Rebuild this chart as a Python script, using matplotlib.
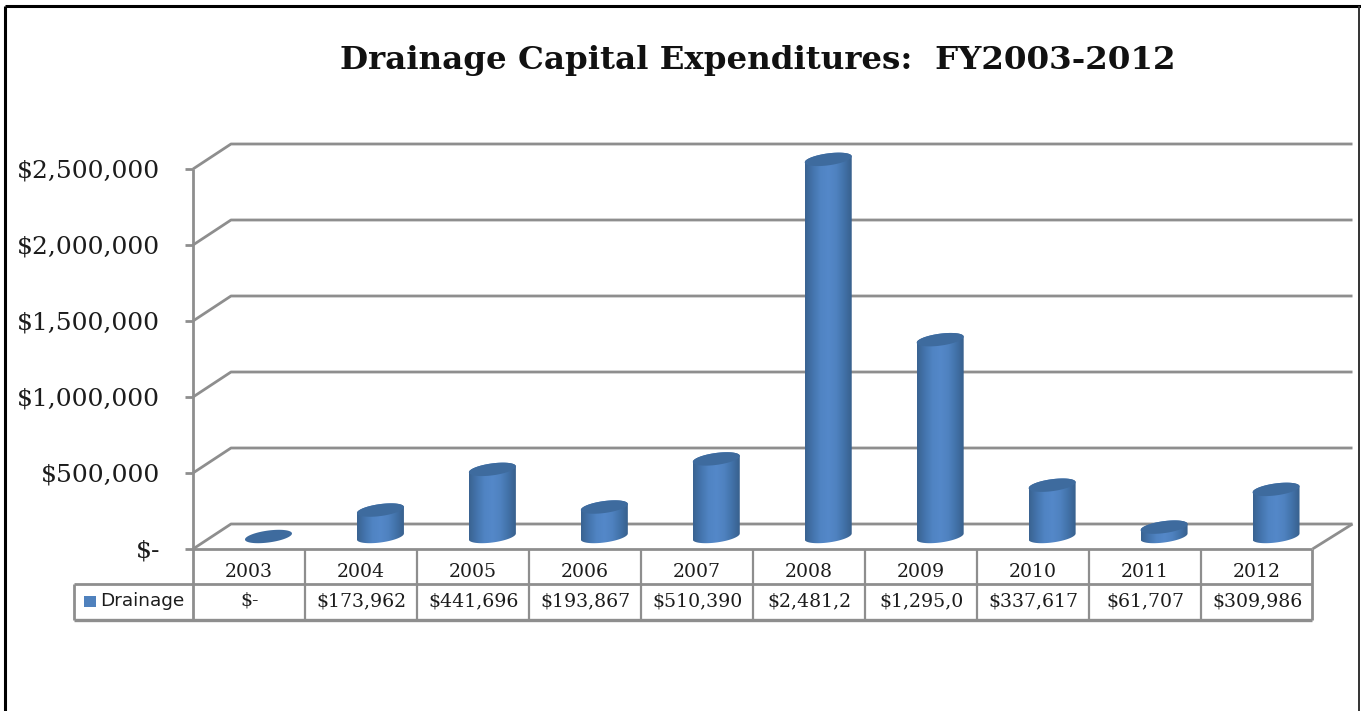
import numpy as np
import matplotlib
matplotlib.use("Agg")
import matplotlib.pyplot as plt
from matplotlib.colors import LinearSegmentedColormap
from matplotlib.patches import Polygon, Rectangle, PathPatch
from matplotlib.path import Path

# ---- data ----
years = ["2003", "2004", "2005", "2006", "2007", "2008", "2009", "2010", "2011", "2012"]
drainage = [0, 173962, 441696, 193867, 510390, 2481200, 1295000, 337617, 61707, 309986]
table_labels = ["$-", "$173,962", "$441,696", "$193,867", "$510,390",
                "$2,481,2", "$1,295,0", "$337,617", "$61,707", "$309,986"]
yticks = [0, 500000, 1000000, 1500000, 2000000, 2500000]
ytick_labels = ["$-", "$500,000", "$1,000,000", "$1,500,000", "$2,000,000", "$2,500,000"]
title = "Drainage Capital Expenditures:  FY2003-2012"
series_name = "Drainage"

W, H = 1361, 711
fig = plt.figure(figsize=(W / 100, H / 100), dpi=100, facecolor="white")

# value axes: the front plane of the 3-D box
L, R, Y0, Y1 = 193, 1312.5, 549, 169
ax = fig.add_axes([L / W, 1 - Y0 / H, (R - L) / W, (Y0 - Y1) / H])
ax.set_xlim(-0.5, 9.5)
ax.set_ylim(0, 2500000)
ax.axis("off")

# overlay in pixel units for the pseudo 3-D frame and table
ov = fig.add_axes([0, 0, 1, 1], zorder=5)
ov.set_xlim(0, W)
ov.set_ylim(H, 0)
ov.axis("off")
ov.patch.set_alpha(0)

GREY = "#8e8e8e"
TXT = "#1c1c1c"
DX, DY = 38, 25      # depth of the box
lw = 2.0


def line(xs, ys, c=GREY, w=lw, z=1):
    ov.plot(xs, ys, color=c, lw=w, solid_capstyle="butt", zorder=z)


def to_px(x, v):
    p = ax.transData.transform((x, v))
    return p[0], H - p[1]


# back wall grid lines, side wall and ticks
for v, lab in zip(yticks, ytick_labels):
    _, y = to_px(0, v)
    line([L, L + DX, R + DX + 2], [y, y - DY, y - DY])
    line([L - 8, L], [y, y])
    ov.text(160, y + 2, lab, ha="right", va="center", fontsize=18,
            family="DejaVu Serif", color=TXT)
line([R, R + DX + 2], [Y0, Y0 - DY])

# cylinders
cmap = LinearSegmentedColormap.from_list(
    "cyl", ["#3a6391", "#4474ad", "#5084c3", "#5488c9", "#4f82c0", "#4272a9", "#38608d"])
grad = np.linspace(0, 1, 128).reshape(1, -1)
HW, B, TILT = 23.5, 6, 3
OX, OY = 19.5, -12.5
t = np.linspace(0, 2 * np.pi, 73)


def ell(cx, cy, rng=t):
    xs = cx + HW * np.cos(rng)
    ys = cy - B * np.sin(rng) - TILT * np.cos(rng)
    return np.column_stack([xs, ys])


for i, v in enumerate(drainage):
    cx, base = to_px(i, 0)
    _, top = to_px(i, v)
    cx += OX
    base += OY
    top += OY
    if v > 0:
        lower = ell(cx, base, np.linspace(np.pi, 2 * np.pi, 37))
        upper = ell(cx, top, np.linspace(0, np.pi, 37))
        path = Path(np.vstack([lower, upper, lower[:1]]), closed=True)
        im = ov.imshow(grad, cmap=cmap, aspect="auto", zorder=3, interpolation="bilinear",
                       extent=[cx - HW, cx + HW, base + 8, top - 8])
        im.set_clip_path(PathPatch(path, transform=ov.transData))
    ov.add_patch(Polygon(ell(cx, top), closed=True, fc="#3e6b9e", ec="none", zorder=4))
ov.set_xlim(0, W)
ov.set_ylim(H, 0)

# data table
XL, Y_ROW1, Y_ROW2 = 74, 584, 620
step = (R - L) / len(years)
line([L, R], [Y0, Y0], z=6)
line([XL, R], [Y_ROW1, Y_ROW1], z=6)
line([XL, R], [Y_ROW2, Y_ROW2], z=6, w=2.4)
line([XL, XL], [Y_ROW1, Y_ROW2], z=6)
line([L, L], [Y1, Y_ROW2], z=6)
for i, (yr, lab) in enumerate(zip(years, table_labels)):
    x = L + step * (i + 1)
    line([x, x], [Y0, Y_ROW2], w=1.6 if i < 9 else 2.0, z=6)
    xc = L + step * (i + 0.5)
    ov.text(xc, 572, yr, ha="center", va="center", fontsize=13.6,
            family="DejaVu Serif", color=TXT, zorder=7)
    ov.text(xc + 1, 601, lab, ha="center", va="center", fontsize=13.6,
            family="DejaVu Serif", color=TXT, zorder=7)
ov.add_patch(Rectangle((84, 596), 12, 11, fc="#4f81bd", ec="none", zorder=7))
ov.text(100, 601, series_name, ha="left", va="center", fontsize=13.3,
        family="DejaVu Sans", color=TXT, zorder=7)

# title
ov.text(757.5, 68.5, title, ha="center", va="baseline", fontsize=23.4, fontweight="bold",
        family="DejaVu Serif", color="#111111", zorder=7)

# outer frame
line([5.5, 5.5], [H, 5.5], c="black", w=2.2, z=8)
line([5.5, 1361], [6, 6], c="black", w=2.2, z=8)
line([1359.5, 1359.5], [6, H], c="#333333", w=1.4, z=8)

fig.savefig("out.png", dpi=100, facecolor="white")
